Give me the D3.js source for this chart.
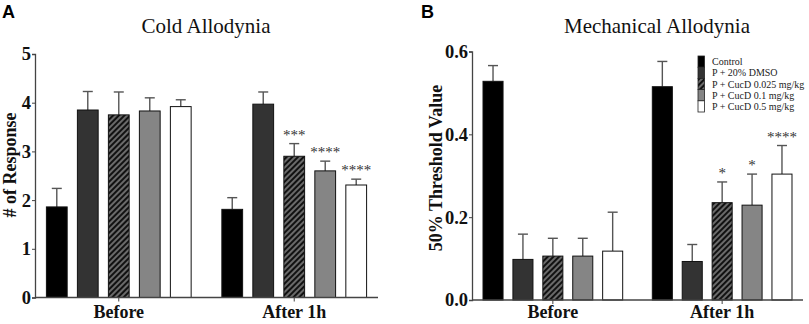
<!DOCTYPE html>
<html>
<head>
<meta charset="utf-8">
<script src="https://cdn.jsdelivr.net/npm/d3@7"></script>
<style>
  body { margin: 0; background: #fff; }
  svg { display: block; }
</style>
</head>
<body>
<div id="chart"></div>
<script>
// Data
const groups = ['Before', 'After 1h'];
const seriesNames = ['Control', 'P + 20% DMSO', 'P + CucD 0.025 mg/kg', 'P + CucD 0.1 mg/kg', 'P + CucD 0.5 mg/kg'];

// Cold allodynia (# of response), mean and upper SEM per group
const coldMeans = [[1.86, 3.85, 3.75, 3.83, 3.92], [1.81, 3.97, 2.90, 2.60, 2.31]];
const coldErrs = [[0.38, 0.38, 0.47, 0.27, 0.14], [0.24, 0.25, 0.26, 0.20, 0.12]];
const coldStars = [['', '', '', '', ''], ['', '', '***', '****', '****']];
const coldTicks = [0, 1, 2, 3, 4, 5];

// Mechanical allodynia (50% threshold)
const mechMeans = [[0.528, 0.098, 0.106, 0.106, 0.118], [0.515, 0.093, 0.235, 0.229, 0.304]];
const mechErrs = [[0.038, 0.061, 0.043, 0.043, 0.094], [0.061, 0.041, 0.050, 0.075, 0.069]];
const mechStars = [['', '', '', '', ''], ['', '', '*', '*', '****']];
const mechTicks = [0, 0.2, 0.4, 0.6];

// Styles
const seriesFill = d3.scaleOrdinal()
    .domain(seriesNames)
    .range(['#000000', '#333333', 'url(#hatch)', '#858585', '#ffffff']);

const serif = '"Liberation Serif", "Times New Roman", serif';

const svg = d3.select('#chart').append('svg')
    .attr('width', 809)
    .attr('height', 324);

// Hatch pattern for the 0.025 mg/kg group
const defs = svg.append('defs');
const pat = defs.append('pattern')
    .attr('id', 'hatch')
    .attr('patternUnits', 'userSpaceOnUse')
    .attr('width', 4)
    .attr('height', 4)
    .attr('patternTransform', 'rotate(45)');
pat.append('rect').attr('width', 4).attr('height', 4).attr('fill', '#6a6a6a');
pat.append('rect').attr('width', 2).attr('height', 4).attr('fill', '#111');

// Draw one panel
function drawPanel(opt) {
    const g = svg.append('g');

    const x0 = d3.scaleBand()
        .domain(groups)
        .range([opt.left, opt.right])
        .paddingInner(0.175)
        .paddingOuter(0.065);

    const x1 = d3.scaleBand()
        .domain(seriesNames)
        .range([0, x0.bandwidth()])
        .paddingInner(0.33)
        .paddingOuter(0);

    const y = d3.scaleLinear()
        .domain([0, opt.max])
        .range([opt.bottom, opt.top]);

    // Bars
    const rows = [];
    groups.forEach((grp, gi) => {
        seriesNames.forEach((s, si) => {
            rows.push({
                group: grp, series: s,
                mean: opt.means[gi][si],
                err: opt.errs[gi][si],
                star: opt.stars[gi][si]
            });
        });
    });

    const barG = g.selectAll('.bar')
        .data(rows)
        .enter()
        .append('g')
        .attr('class', 'bar')
        .attr('transform', d => `translate(${x0(d.group) + x1(d.series)},0)`);

    // Error bars (upper only)
    const bw = x1.bandwidth();
    barG.append('line')
        .attr('x1', bw / 2).attr('x2', bw / 2)
        .attr('y1', d => y(d.mean))
        .attr('y2', d => y(d.mean + d.err))
        .attr('stroke', '#555')
        .attr('stroke-width', 1.4);
    barG.append('line')
        .attr('x1', bw / 2 - 5).attr('x2', bw / 2 + 5)
        .attr('y1', d => y(d.mean + d.err))
        .attr('y2', d => y(d.mean + d.err))
        .attr('stroke', '#555')
        .attr('stroke-width', 1.4);

    barG.append('rect')
        .attr('x', 0)
        .attr('width', bw)
        .attr('y', d => y(d.mean))
        .attr('height', d => y(0) - y(d.mean))
        .attr('fill', d => seriesFill(d.series))
        .attr('stroke', '#111')
        .attr('stroke-width', 1);

    // Significance stars
    barG.filter(d => d.star)
        .append('text')
        .attr('x', bw / 2)
        .attr('y', d => y(d.mean + d.err) - 4)
        .attr('text-anchor', 'middle')
        .style('font-family', serif)
        .style('font-size', '15px')
        .style('fill', '#333')
        .text(d => d.star);

    // Y axis
    const yAxis = d3.axisLeft(y)
        .tickValues(opt.ticks)
        .tickFormat(opt.fmt)
        .tickSize(3)
        .tickPadding(1);
    const ya = g.append('g')
        .attr('transform', `translate(${opt.left},0)`)
        .call(yAxis);
    ya.select('.domain').attr('stroke', '#444').attr('stroke-width', 1.3);
    ya.selectAll('.tick line').attr('stroke', '#444');
    ya.selectAll('text')
        .style('font-family', serif)
        .style('font-size', '18.5px')
        .style('font-weight', 'bold')
        .style('fill', '#111');

    // X axis
    const xAxis = d3.axisBottom(x0).tickSize(4).tickPadding(opt.xPad);
    const xa = g.append('g')
        .attr('transform', `translate(0,${opt.bottom})`)
        .call(xAxis);
    xa.select('.domain').attr('stroke', '#444').attr('stroke-width', 1.3)
        .attr('d', `M${opt.left},0H${opt.right}`);
    xa.selectAll('.tick line').attr('stroke', '#444');
    xa.selectAll('text')
        .style('font-family', serif)
        .style('font-size', '18px')
        .style('font-weight', 'bold')
        .style('fill', '#111');

    // Y label
    g.append('text')
        .attr('transform', `translate(${opt.ylabX},${opt.ylabY}) rotate(-90)`)
        .attr('text-anchor', 'middle')
        .style('font-family', serif)
        .style('font-size', '18px')
        .style('font-weight', 'bold')
        .style('fill', '#111')
        .text(opt.ylabel);

    // Title
    g.append('text')
        .attr('x', opt.titleX)
        .attr('y', 33)
        .attr('text-anchor', 'middle')
        .style('font-family', serif)
        .style('font-size', '21px')
        .style('fill', '#111')
        .text(opt.title);

    // Panel letter
    g.append('text')
        .attr('x', opt.letterX)
        .attr('y', 18)
        .style('font-family', '"Liberation Sans", Arial, sans-serif')
        .style('font-size', '18px')
        .style('font-weight', 'bold')
        .style('fill', '#000')
        .text(opt.letter);
}

drawPanel({
    left: 35, right: 378, top: 54, bottom: 297.5, max: 5,
    means: coldMeans, errs: coldErrs, stars: coldStars,
    ticks: coldTicks, fmt: d3.format('d'), xPad: 4,
    ylabel: '# of Response', ylabX: 16, ylabY: 165,
    title: 'Cold Allodynia', titleX: 206,
    letter: 'A', letterX: 2
});

drawPanel({
    left: 472, right: 803, top: 51.5, bottom: 300, max: 0.6,
    means: mechMeans, errs: mechErrs, stars: mechStars,
    ticks: mechTicks, fmt: d3.format('.1f'), xPad: 1.5,
    ylabel: '50% Threshold Value', ylabX: 442, ylabY: 168,
    title: 'Mechanical Allodynia', titleX: 657,
    letter: 'B', letterX: 421
});

// Legend
const legend = svg.append('g').attr('transform', 'translate(698,56)');
const rowH = 11.2;
legend.selectAll('rect')
    .data(seriesNames)
    .enter()
    .append('rect')
    .attr('x', 0)
    .attr('y', (d, i) => i * rowH)
    .attr('width', 6.5)
    .attr('height', rowH)
    .attr('fill', d => seriesFill(d))
    .attr('stroke', '#222')
    .attr('stroke-width', 0.8);
legend.selectAll('text')
    .data(seriesNames)
    .enter()
    .append('text')
    .attr('x', 14)
    .attr('y', (d, i) => i * rowH + rowH / 2 + 3.5)
    .style('font-family', serif)
    .style('font-size', '10px')
    .style('fill', '#222')
    .text(d => d);
</script>
</body>
</html>
